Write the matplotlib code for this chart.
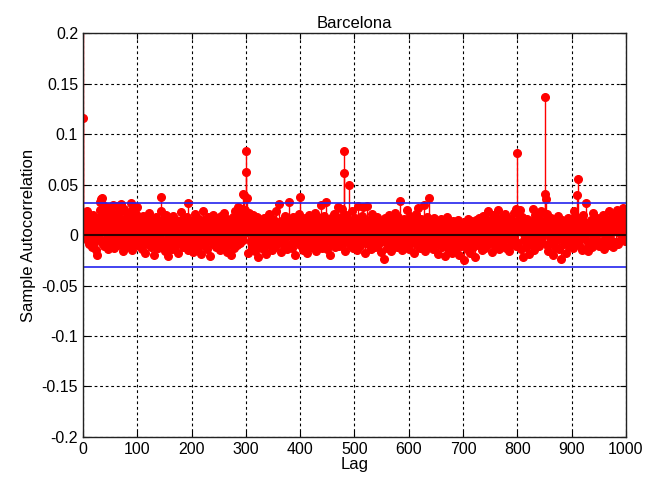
import numpy as np
import matplotlib
matplotlib.use("Agg")
import matplotlib.pyplot as plt

plt.rcParams['font.family'] = ['Liberation Sans', 'DejaVu Sans']

# Sample autocorrelation values (in thousandths), lags 0..1000
rows = [
    [1000, 116, 22, 18, 5, -3, 12, 24, 8, -6, 15, 2, -9, 19, 7, -4, 11, -12, 3, 20, 9, -7, 1, 14, -15, 6, -20, 4, 17, -2, 10, 25, 33, 36, 12, -8, 37, 30, 5, -11, 18, 9, 21, -5, 13, 28, 2, -14, 7, 16],
    [-3, 11, 24, 6, -9, 17, 30, 1, -13, 8, 29, 14, -6, 20, 3, -10, 12, -1, 9, 23, 31, -7, 15, 4, -16, 10, 26, -4, 2, 13, -12, 19, 7, -2, 22, -8, 5, 16, 32, -5, 11, -15, 8, 27, 1, -9, 14, 21, -3, 6],
    [28, -6, 10, 3, -11, 17, 8, -2, 13, -14, 5, 19, -7, 1, 12, -18, 9, 4, -5, 15, -9, 7, 22, -1, 11, -12, 3, 16, -4, 8, -20, 6, 14, 0, -8, 18, 2, 10, -13, 5, 12, -3, 9, 24, 38, -6, 4, 15, -10, 7],
    [11, -16, 3, 20, -5, 8, -21, 13, 1, -9, 17, 6, -2, 10, -14, 4, 19, -7, 12, 2, -11, 9, 15, -4, 6, -18, 14, 0, 8, -6, 23, 11, -3, 5, -12, 16, 7, -1, 13, -8, 3, 18, 9, -15, 32, 4, -5, 10, 1, -10],
    [14, -3, 7, -17, 11, 2, 21, -8, 5, 12, -1, -13, 9, 16, 3, -6, 10, -19, 6, 13, -4, 8, 24, -10, 2, 15, -7, 11, 1, -14, 18, 5, -2, 9, -21, 7, 12, -5, 4, 20, -9, 6, 14, -3, 10, -12, 3, 17, 0, -7],
    [12, 5, -15, 8, 19, -2, 10, -8, 4, 22, -11, 6, 13, -5, 1, 16, -17, 9, 3, -9, 14, 7, -20, 11, 2, -4, 18, 8, -13, 5, 24, -6, 12, 1, -10, 9, 28, 15, -3, 20, -8, 11, 26, 6, 41, -5, 17, 40, 2, 25],
    [83, 62, 37, 14, -18, 22, 9, 3, 16, -7, 11, -12, 5, 20, -3, 8, -16, 13, 2, -9, 18, 6, -22, 10, 4, -5, 15, -11, 7, 12, -2, 9, -14, 17, 3, -7, 11, -19, 6, 14, -1, 8, 21, -10, 4, 13, -6, 10, 2, -15],
    [16, 5, -4, 9, -12, 24, 7, 1, 13, -8, 6, 31, -3, 10, 2, -17, 12, 8, -6, 15, 4, -11, 9, 19, -2, 7, -14, 11, 3, 33, 5, -9, 14, 0, 8, -13, 18, 6, -4, 10, -20, 12, 2, 16, -7, 9, 4, -1, 21, -10],
    [38, 6, -5, 11, 3, -15, 14, 8, -2, 17, -9, 5, 12, -18, 7, 1, 20, -6, 10, 4, -12, 15, 9, -3, 13, -8, 6, 22, -1, 11, -16, 5, 18, 2, -10, 8, 14, -4, 30, 7, -13, 10, 3, 19, -7, 12, -2, 33, 6, -14],
    [9, 15, -5, 4, 11, -20, 8, 17, 1, -9, 13, 6, -3, 21, 10, -12, 5, 16, -6, 9, 28, 2, -11, 14, 7, -1, 18, 26, 4, -8, 83, 61, 12, -16, 9, 20, 3, -5, 11, 7, 50, 15, -10, 6, 13, -2, 24, 8, -13, 10],
    [4, 17, -7, 12, 2, -15, 9, 29, -3, 6, 14, -11, 8, 19, 1, -6, 28, 11, 5, -18, 13, 7, -4, 10, 29, -9, 3, 15, -2, 9, -14, 6, 21, 0, 11, -8, 16, 4, -12, 7, 13, -3, 18, 5, -10, 12, 2, -5, 10, -17],
    [8, 14, -6, 3, -24, 11, 5, 17, -1, 9, -13, 13, 6, -8, 20, 2, -4, 12, -16, 7, 15, 1, -10, 10, 4, 22, -7, 14, 3, -12, 9, 18, -2, 6, 34, -9, 11, 5, -15, 13, 8, -3, 16, 1, -11, 10, 25, -5, 7, 12],
    [-14, 6, 19, 3, -8, 11, -2, 15, 9, -18, 5, 13, -6, 21, 2, -10, 8, 27, -4, 12, 4, -13, 10, 16, -1, 7, -9, 14, 30, 5, -16, 11, 3, -7, 18, 9, -3, 13, 37, -11, 6, 15, -5, 10, 2, -14, 17, 8, -2, 12],
    [1, -9, 14, 6, -19, 10, 4, 12, -7, 3, 16, -12, 8, 1, -4, 11, -21, 7, 13, -6, 5, 18, -10, 9, 2, -15, 12, 6, -3, 10, -18, 4, 14, -8, 7, 11, -1, -13, 9, 3, 15, -5, 6, -20, 12, 1, 8, -11, 10, 4],
    [-7, 13, -25, 5, 9, -3, 11, -14, 2, 16, -9, 6, 10, -18, 4, 14, -5, 8, 1, -12, 12, 7, -22, 3, 15, -6, 9, 11, -10, 2, 17, -3, 6, 13, -15, 8, 4, 19, -8, 10, 1, -13, 14, 5, -4, 11, 24, -9, 7, 12],
    [-2, 15, 6, -17, 9, 3, 20, -6, 12, 1, -11, 8, 16, -4, 10, 25, -14, 5, 13, -8, 7, 2, 18, -10, 11, 4, -5, 14, 21, -13, 6, 9, -2, 17, 3, -16, 12, 8, -7, 15, 1, -9, 10, 22, -4, 6, 13, -11, 26, 5],
    [81, 24, -8, 11, 25, 6, -14, 9, 18, 3, -22, 12, 7, -5, 15, 10, -12, 4, 16, -3, 8, 13, -19, 6, 11, 1, -9, 14, 26, 2, -15, 10, 20, -6, 7, 12, -2, 18, 5, -11, 9, 15, -4, 24, 8, -7, 13, 3, -1, 22],
    [137, 41, 36, 12, -10, 21, 6, -16, 14, 3, 9, -8, 17, 5, -2, 11, -20, 8, 13, 1, -12, 16, 7, -5, 10, 19, -14, 4, 12, 9, -24, 6, 15, -3, 11, 2, -9, 14, 8, -18, 13, 5, -6, 17, 10, 1, -11, 7, 12, -4],
    [16, 3, -13, 9, 24, 6, -7, 12, 18, 1, 40, 55, 14, -10, 8, 15, -4, 11, 3, -15, 20, 7, -2, 13, 5, -14, 9, 32, -6, 10, 4, -16, 12, 2, -8, 15, 8, -12, 11, 6, 22, -3, 14, 9, -9, 5, 17, 1, -7, 12],
    [8, -11, 15, 3, 10, -6, 13, 20, 5, -14, 9, 12, 1, -8, 16, 6, -3, 11, 24, -10, 7, 14, 2, -5, 18, 9, 13, -12, 6, 21, 4, 15, -7, 10, 25, 3, -9, 19, 11, 6, 16, -4, 22, 8, 13, 27, 2, 17, 10, -6, 5],
]
acf = np.concatenate([np.array(r, dtype=float) for r in rows]) / 1000.0
lags = np.arange(len(acf))
bound = 0.0313

fig = plt.figure(figsize=(6.48, 4.82), dpi=100)
ax = fig.add_axes([0.128, 0.0934, 0.838, 0.838])

ax.grid(True, color='black', linestyle=(0, (2.5, 2.5)), linewidth=0.8)
ax.set_axisbelow(True)

markerline, stemlines, baseline = ax.stem(lags, acf, linefmt='r-', markerfmt='ro', basefmt='k-')
plt.setp(stemlines, linewidth=1.0, color='red')
plt.setp(markerline, markersize=5.5, color='red', markeredgecolor='red')
plt.setp(baseline, linewidth=1.5, color='#330000')

ax.axhline(bound, color='#2222ee', linewidth=1.2)
ax.axhline(-bound, color='#2222ee', linewidth=1.2)

ax.set_xlim(0, 1000)
ax.set_ylim(-0.2, 0.2)
ax.set_xticks(np.arange(0, 1001, 100))
ax.set_yticks([-0.2, -0.15, -0.1, -0.05, 0, 0.05, 0.1, 0.15, 0.2])
ax.set_yticklabels(['-0.2', '-0.15', '-0.1', '-0.05', '0', '0.05', '0.1', '0.15', '0.2'])
ax.tick_params(direction='in', labelsize=11.5, length=4, top=True, right=True, labeltop=False, labelright=False)
for s in ax.spines.values():
    s.set_linewidth(1.0)
    s.set_color('#222222')

ax.set_title('Barcelona', fontsize=12, pad=4)
ax.set_xlabel('Lag', fontsize=12, labelpad=0)
ax.set_ylabel('Sample Autocorrelation', fontsize=12, labelpad=4)

fig.savefig('out.png', dpi=100)
